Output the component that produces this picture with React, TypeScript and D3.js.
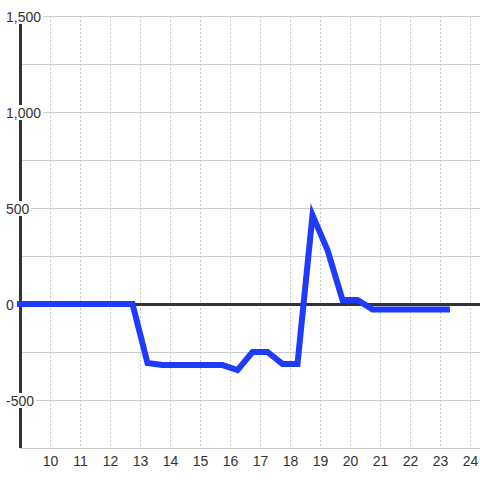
import React, { useEffect, useRef } from "react";
import * as d3 from "d3";

const times = [8.9, 9.25, 9.75, 10.25, 10.75, 11.25, 11.75, 12.25, 12.75, 13.25, 13.75, 14.25, 14.75, 15.25, 15.75, 16.25, 16.75, 17.25, 17.75, 18.25, 18.75, 19.25, 19.75, 20.25, 20.75, 21.25, 21.75, 22.25, 22.75, 23.33];
const values = [0, 0, 0, 0, 0, 0, 0, 0, 0, -307, -318, -318, -318, -318, -318, -344, -250, -250, -312, -312, 463, 281, 21, 21, -28, -28, -28, -28, -28, -28];
const yLabelTicks = [-500, 0, 500, 1000, 1500];
const yGridTicks = [-750, -500, -250, 250, 500, 750, 1000, 1250, 1500];
const xTicks = [10, 11, 12, 13, 14, 15, 16, 17, 18, 19, 20, 21, 22, 23, 24];

export default function App() {
  const ref = useRef<SVGSVGElement>(null);
  useEffect(() => {
    const svg = d3.select(ref.current);
    svg.selectAll("*").remove();
    const x = d3.scaleLinear().domain([9, 24]).range([20, 470]);
    const y = d3.scaleLinear().domain([-750, 1500]).range([448, 16]);
    const font = "'Liberation Sans', Arial, sans-serif";

    svg.append("rect").attr("width", 480).attr("height", 480).attr("fill", "#ffffff");

    // vertical dashed grid
    svg.append("g").selectAll("line").data(xTicks).join("line")
      .attr("x1", (d) => x(d) + 0.5).attr("x2", (d) => x(d) + 0.5)
      .attr("y1", y(1500)).attr("y2", y(-750))
      .attr("stroke", "#c8c8c8").attr("stroke-width", 1).attr("stroke-dasharray", "2,2");

    // horizontal grid
    svg.append("g").selectAll("line").data(yGridTicks).join("line")
      .attr("x1", 20).attr("x2", 480)
      .attr("y1", (d) => y(d) + 0.5).attr("y2", (d) => y(d) + 0.5)
      .attr("stroke", "#cccccc").attr("stroke-width", 1);

    // zero line
    svg.append("line").attr("x1", 20).attr("x2", 480)
      .attr("y1", y(0) + 0.5).attr("y2", y(0) + 0.5)
      .attr("stroke", "#333333").attr("stroke-width", 3);

    // y axis line
    svg.append("line").attr("x1", 20.5).attr("x2", 20.5)
      .attr("y1", y(1500)).attr("y2", y(-750))
      .attr("stroke", "#333333").attr("stroke-width", 3);

    // data line
    const pts = times.map((t, i) => [t, values[i]] as [number, number]);
    const line = d3.line<[number, number]>().x((d) => x(d[0])).y((d) => y(d[1]));
    svg.append("path").attr("d", line(pts) as string)
      .attr("fill", "none").attr("stroke", "#1f3bff").attr("stroke-width", 6)
      .attr("stroke-linejoin", "miter");

    // y labels with white background
    const yl = svg.append("g");
    yLabelTicks.forEach((v) => {
      const g = yl.append("g");
      const rect = g.append("rect").attr("fill", "#ffffff");
      const t = g.append("text")
        .attr("x", 6).attr("y", y(v) + 5.5)
        .attr("font-family", font).attr("font-size", 14)
        .attr("fill", "#333333")
        .text(d3.format(",")(v).replace("−", "-"));
      const bb = (t.node() as SVGTextElement).getBBox();
      rect.attr("x", bb.x - 1).attr("y", y(v) - 7)
        .attr("width", bb.width + 3).attr("height", 15);
    });

    // x labels
    svg.append("g").selectAll("text").data(xTicks).join("text")
      .attr("x", (d) => x(d) + 0.5).attr("y", 466)
      .attr("text-anchor", "middle")
      .attr("font-family", font).attr("font-size", 14)
      .attr("fill", "#333333")
      .text((d) => String(d));
  }, []);
  return (
    <svg ref={ref} width={480} height={480} style={{ position: "absolute", left: 0, top: 0 }} />
  );
}
